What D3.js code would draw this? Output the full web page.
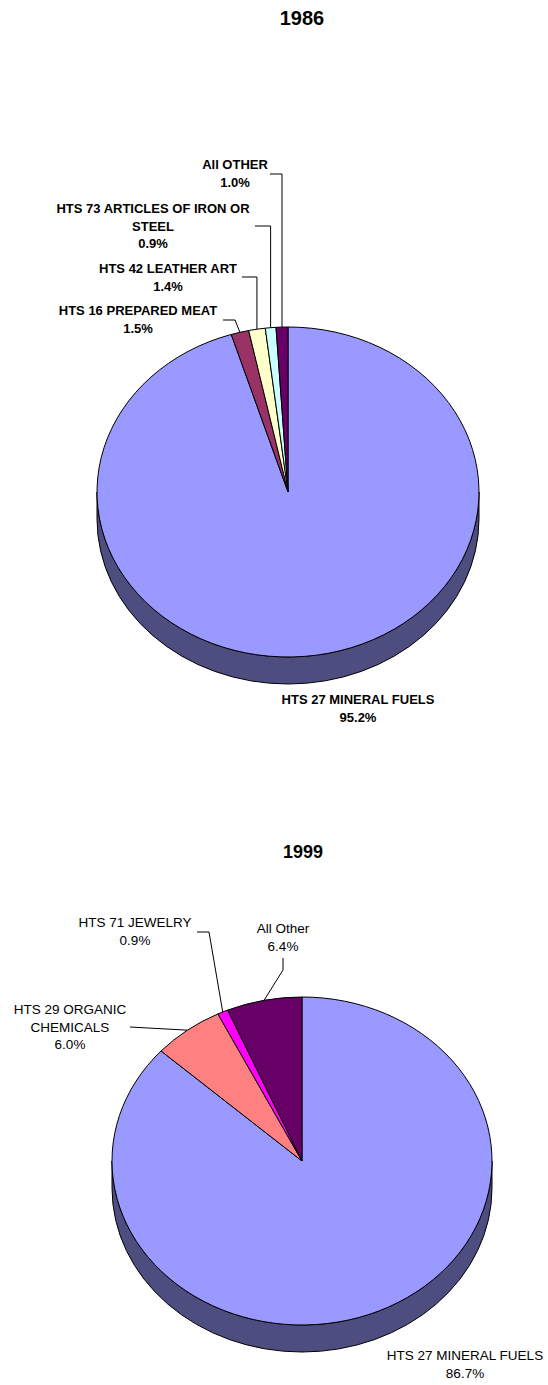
<!DOCTYPE html>
<html lang="en">
<head>
<meta charset="utf-8">
<title>Exports 1986 / 1999</title>
<script src="https://d3js.org/d3.v7.min.js"></script>
<style>
body { margin: 0; background: #fff; }
text { font-family: "Liberation Sans", Arial, sans-serif; fill: #000; }
</style>
</head>
<body>
<script>
// 1986 data
var cats86 = ["HTS 27 MINERAL FUELS", "HTS 16 PREPARED MEAT", "HTS 42 LEATHER ART", "HTS 73 ARTICLES OF IRON OR STEEL", "All OTHER"];
var vals86 = [95.2, 1.5, 1.4, 0.9, 1.0];
var cols86 = ["#9999ff", "#993366", "#ffffcc", "#ccffff", "#660066"];

// 1999 data
var cats99 = ["HTS 27 MINERAL FUELS", "HTS 29 ORGANIC CHEMICALS", "HTS 71 JEWELRY", "All Other"];
var vals99 = [86.7, 6.0, 0.9, 6.4];
var cols99 = ["#9999ff", "#ff8080", "#ff00ff", "#660066"];

var sideColor = "#4d4d7f";

var svg = d3.select("body").append("svg")
    .attr("width", 548)
    .attr("height", 1385);

// label layout: text centre, baseline of first line, wrapped lines, leader
var lay86 = [
    {x: 358, y: 704, lines: ["HTS 27 MINERAL FUELS"]},
    {x: 138, y: 315, lines: ["HTS 16 PREPARED MEAT"], sx: 223, sy: 320, ex: 235},
    {x: 168, y: 273, lines: ["HTS 42 LEATHER ART"], sx: 242, sy: 277},
    {x: 153, y: 213, lines: ["HTS 73 ARTICLES OF IRON OR", "STEEL"], sx: 255, sy: 226},
    {x: 235, y: 169, lines: ["All OTHER"], sx: 270, sy: 174}
];
var lay99 = [
    {x: 465, y: 1360, lines: ["HTS 27 MINERAL FUELS"]},
    {x: 70, y: 1014, lines: ["HTS 29 ORGANIC", "CHEMICALS"], sx: 130, sy: 1027, direct: true},
    {x: 135, y: 927, lines: ["HTS 71 JEWELRY"], sx: 197, sy: 932, ex: 209},
    {x: 283, y: 933, lines: ["All Other"], sx: 283, sy: 958, ey: 970}
];

function drawPie(opt) {
    var cx = opt.cx, cy = opt.cy, rx = opt.rx, ry = opt.ry, d = opt.depth;
    var g = svg.append("g");

    g.append("text")
        .attr("x", opt.titleX)
        .attr("y", opt.titleY)
        .attr("text-anchor", "middle")
        .style("font-weight", "bold")
        .style("font-size", opt.titleSize + "px")
        .text(opt.title);

    // visible side of the disc (lower half)
    g.append("path")
        .attr("d", "M" + (cx - rx) + "," + cy +
            " A" + rx + "," + ry + " 0 0 0 " + (cx + rx) + "," + cy +
            " L" + (cx + rx) + "," + (cy + d) +
            " A" + rx + "," + ry + " 0 0 1 " + (cx - rx) + "," + (cy + d) + " Z")
        .attr("fill", sideColor)
        .attr("stroke", "#000")
        .attr("stroke-width", 1);

    var pie = d3.pie().sort(null).value(function(v) { return v; });
    var arcs = pie(opt.values);
    var arc = d3.arc().innerRadius(0).outerRadius(rx);

    var top = g.append("g")
        .attr("transform", "translate(" + cx + "," + cy + ") scale(1," + (ry / rx) + ")");
    top.selectAll("path")
        .data(arcs)
        .enter().append("path")
        .attr("d", arc)
        .attr("fill", function(a, i) { return opt.colors[i]; })
        .attr("stroke", "#000")
        .attr("stroke-width", 1)
        .attr("vector-effect", "non-scaling-stroke");

    // labels + leaders
    arcs.forEach(function(a, i) {
        var L = opt.layout[i];
        var t = g.append("text")
            .attr("text-anchor", "middle")
            .style("font-size", opt.fontSize + "px")
            .style("font-weight", opt.bold ? "bold" : "normal");
        var lines = L.lines.concat([opt.values[i].toFixed(1) + "%"]);
        lines.forEach(function(s, k) {
            t.append("tspan")
                .attr("x", L.x)
                .attr("y", L.y + k * opt.lineH)
                .text(s);
        });
        if (L.sx === undefined) return;
        var mid = (a.startAngle + a.endAngle) / 2;
        var px = cx + rx * Math.sin(mid);
        var py = cy - ry * Math.cos(mid);
        var pts;
        if (L.direct) pts = [[L.sx, L.sy], [px, py]];
        else if (L.ey !== undefined) pts = [[L.sx, L.sy], [L.sx, L.ey], [px, py]];
        else {
            var ex = L.ex !== undefined ? L.ex : px;
            pts = [[L.sx, L.sy], [ex, L.sy], [px, py]];
        }
        g.append("path")
            .attr("d", d3.line()(pts))
            .attr("fill", "none")
            .attr("stroke", "#000")
            .attr("stroke-width", 1);
    });
}

drawPie({
    title: "1986", titleX: 302, titleY: 25, titleSize: 20,
    cx: 288, cy: 492, rx: 191, ry: 165, depth: 27,
    values: vals86, colors: cols86, layout: lay86,
    bold: true, fontSize: 13, lineH: 17.5
});

drawPie({
    title: "1999", titleX: 303, titleY: 858, titleSize: 18,
    cx: 302, cy: 1161, rx: 190, ry: 164, depth: 27,
    values: vals99, colors: cols99, layout: lay99,
    bold: false, fontSize: 13.5, lineH: 17.5
});
</script>
</body>
</html>
